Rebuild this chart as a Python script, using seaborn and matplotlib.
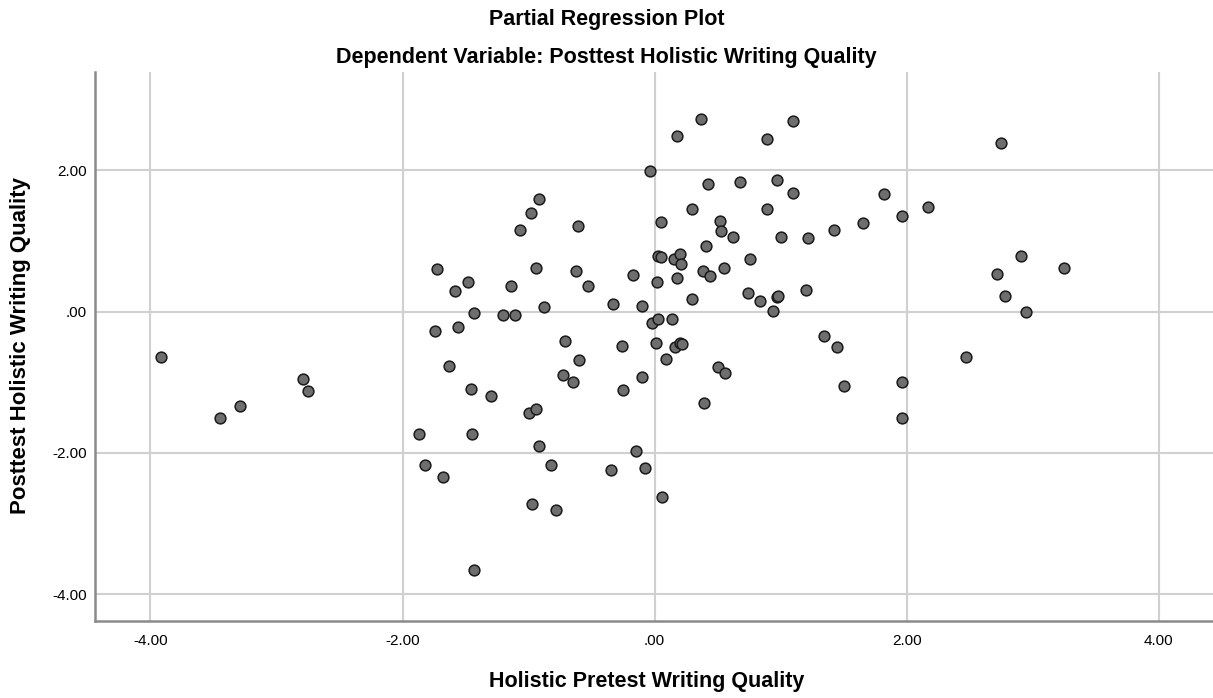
import numpy as np
import pandas as pd
import matplotlib
matplotlib.use("Agg")
import matplotlib.pyplot as plt
import seaborn as sns

# residuals
pretest = [-3.92, -3.45, -3.29, -2.79, -2.75, -0.04, -0.92, -0.98, -1.07, -0.61,
           0.05, -1.73, -0.94, -0.62, 0.03, 0.05, 0.15, -1.48, -1.58, -1.14,
           -0.53, -0.17, 0.02, -0.33, -0.10, -0.88, -1.43, -1.20, -1.11, -1.74,
           -1.56, -0.02, 0.03, -0.71, -0.26, 0.01, -1.63, -0.60, 0.09, -0.73,
           -0.65, -0.10, -0.25, -1.46, -1.30, -1.00, -0.94, -1.87, -1.45, -0.92,
           -0.15, -1.82, -1.68, -0.82, -0.35, -0.08, 0.06, -0.97, -0.78, -1.43,
           0.37, 0.18, 1.10, 0.89, 0.42, 0.68, 0.97, 1.10, 1.82, 2.17,
           1.96, 1.65, 1.42, 1.22, 1.00, 0.30, 0.89, 0.52, 0.53, 0.62,
           0.41, 0.20, 0.21, 0.76, 0.38, 0.44, 0.55, 0.18, 0.30, 0.74,
           0.84, 0.97, 0.98, 1.20, 0.94, 0.14, 0.16, 0.20, 0.22, 1.34,
           1.45, 0.50, 0.56, 0.39, 1.50, 1.96, 1.96, 2.75, 2.91, 2.72,
           3.25, 2.78, 2.95, 2.47]
posttest = [-0.65, -1.50, -1.33, -0.95, -1.13, 1.99, 1.60, 1.40, 1.15, 1.21,
            1.27, 0.60, 0.62, 0.58, 0.78, 0.77, 0.75, 0.42, 0.29, 0.36,
            0.36, 0.52, 0.42, 0.11, 0.08, 0.06, -0.02, -0.05, -0.05, -0.27,
            -0.22, -0.16, -0.10, -0.42, -0.49, -0.44, -0.77, -0.69, -0.67, -0.90,
            -1.00, -0.92, -1.11, -1.10, -1.20, -1.44, -1.38, -1.74, -1.73, -1.90,
            -1.98, -2.17, -2.34, -2.17, -2.24, -2.21, -2.63, -2.72, -2.81, -3.66,
            2.73, 2.48, 2.70, 2.44, 1.80, 1.83, 1.86, 1.68, 1.66, 1.48,
            1.35, 1.26, 1.15, 1.04, 1.06, 1.45, 1.45, 1.28, 1.14, 1.05,
            0.93, 0.82, 0.67, 0.74, 0.58, 0.51, 0.61, 0.47, 0.18, 0.26,
            0.15, 0.21, 0.22, 0.31, 0.01, -0.10, -0.50, -0.44, -0.46, -0.35,
            -0.50, -0.79, -0.87, -1.29, -1.06, -1.00, -1.51, 2.38, 0.79, 0.53,
            0.62, 0.22, -0.01, -0.64]
xticks = [-4, -2, 0, 2, 4]
yticks = [-4, -2, 0, 2]

df = pd.DataFrame({"pre": pretest, "post": posttest})

def spss_fmt(v):
    s = "%.2f" % v
    if s.startswith("0."):
        s = s[1:]
    return s

sns.set_style("white")
plt.rcParams["font.family"] = ["Liberation Sans", "DejaVu Sans"]
plt.rcParams["text.color"] = "black"
plt.rcParams["xtick.color"] = "black"
plt.rcParams["ytick.color"] = "black"

fig = plt.figure(figsize=(12.13, 6.98), dpi=100)
ax = fig.add_axes([0.0783, 0.1103, 0.9217, 0.7865])

sns.scatterplot(data=df, x="pre", y="post", ax=ax, s=60, color="#6e6e6e",
                edgecolor="#1a1a1a", linewidth=1.1, zorder=3)

ax.set_xlim(-4.44, 4.43)
ax.set_ylim(-4.38, 3.39)
ax.set_xticks(xticks)
ax.set_yticks(yticks)
ax.set_xticklabels([spss_fmt(v) for v in xticks], fontsize=11)
ax.set_yticklabels([spss_fmt(v) for v in yticks], fontsize=11)
ax.tick_params(axis="x", length=0, pad=9)
ax.tick_params(axis="y", length=0, pad=6)
ax.grid(True, color="#d0d0d0", linewidth=1.5)
ax.set_axisbelow(True)

for side in ["top", "right"]:
    ax.spines[side].set_visible(False)
for side in ["left", "bottom"]:
    ax.spines[side].set_color("#8a8a8a")
    ax.spines[side].set_linewidth(1.8)

ax.set_xlabel("")
ax.set_ylabel("")
fig.text(0.533, 0.024, "Holistic Pretest Writing Quality", ha="center", va="center",
         fontsize=15.5, fontweight="bold")
fig.text(0.0165, 0.505, "Posttest Holistic Writing Quality", ha="center", va="center",
         rotation=90, fontsize=16, fontweight="bold")
fig.text(0.5, 0.972, "Partial Regression Plot", ha="center", va="center",
         fontsize=15.5, fontweight="bold")
fig.text(0.5, 0.917, "Dependent Variable: Posttest Holistic Writing Quality",
         ha="center", va="center", fontsize=15.5, fontweight="bold")

fig.savefig("out.png", dpi=100)
